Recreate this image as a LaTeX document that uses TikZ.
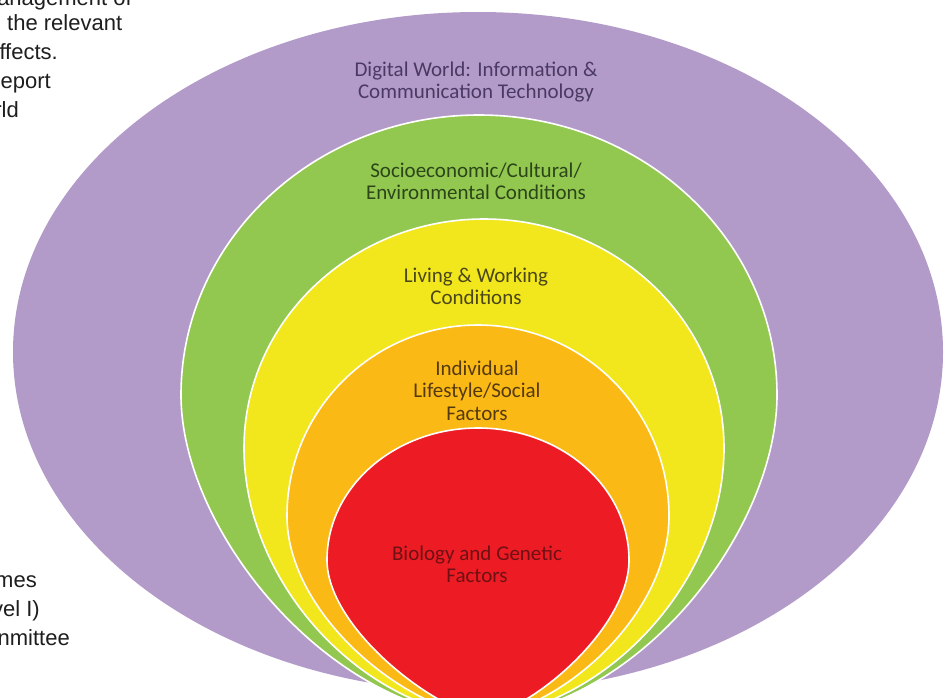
\documentclass[tikz,border=0pt]{standalone}
\usepackage{fontspec}
\setmainfont{Carlito}
\newfontfamily\pagefont{Liberation Sans}
\begin{document}
\begin{tikzpicture}[x=1pt,y=-1pt]
\definecolor{cpurple}{HTML}{B39BC9}
\definecolor{cgreen}{HTML}{93C850}
\definecolor{cyellow}{HTML}{F2E71D}
\definecolor{corange}{HTML}{FBB916}
\definecolor{cred}{HTML}{ED1C24}
\definecolor{tpurple}{HTML}{4A3A62}
\definecolor{tgreen}{HTML}{2C4519}
\definecolor{tyellow}{HTML}{4B4718}
\definecolor{torange}{HTML}{553A10}
\definecolor{tred}{HTML}{6E1014}
\definecolor{tpage}{HTML}{1E1E1E}
\tikzset{
  band/.style={draw=white, line width=1.6pt},
  lbl/.style={font=\fontsize{21}{22.5}\selectfont, align=center, inner sep=0pt, anchor=north},
  pagetext/.style={font=\pagefont\fontsize{22}{28}\selectfont, text=tpage, inner sep=0pt}
}
\useasboundingbox (0,0) rectangle (947,697);
\clip (0,0) rectangle (947,697);
\fill[white] (0,0) rectangle (947,697);

% outer ellipse
\fill[cpurple] (478,352) ellipse [x radius=465pt, y radius=340pt];

% nested shapes, converging at the bottom
\filldraw[band, fill=cgreen] (181,395) arc[start angle=180, end angle=0, x radius=298pt, y radius=280pt]
  .. controls (777,530) and (640,708) .. (483,718)
  .. controls (326,708) and (181,530) .. (181,395) -- cycle;
\filldraw[band, fill=cyellow] (244,448) arc[start angle=180, end angle=0, x radius=240pt, y radius=229pt]
  .. controls (724,580) and (610,705) .. (483,718)
  .. controls (356,705) and (244,580) .. (244,448) -- cycle;
\filldraw[band, fill=corange] (287,516) arc[start angle=180, end angle=0, x radius=191pt, y radius=191pt]
  .. controls (669,610) and (570,705) .. (483,718)
  .. controls (396,705) and (287,610) .. (287,516) -- cycle;
\filldraw[band, fill=cred] (327,560) arc[start angle=180, end angle=0, x radius=151pt, y radius=132pt]
  .. controls (629,625) and (540,705) .. (483,718)
  .. controls (426,705) and (327,625) .. (327,560) -- cycle;

% labels
\node[lbl, text=tpurple] (lab1) at (476,61.5) {Digital World: Information \&\\Communication Technology};
\node[lbl, text=tgreen] (lab2) at (476,162.5) {Socioeconomic/Cultural/\\Environmental Conditions};
\node[lbl, text=tyellow] (lab3) at (476,267.5) {Living \& Working\\Conditions};
\node[lbl, text=torange] (lab4) at (477,360.5) {Individual\\Lifestyle/Social\\Factors};
\node[lbl, text=tred] (lab5) at (477,545.5) {Biology and Genetic\\Factors};

% cropped page text on the left
\node[pagetext, anchor=base east] (p1) at (132,5) {anagement of};
\node[pagetext, anchor=base west] (p2) at (7,30) {the relevant};
\node[pagetext, anchor=base east] (p3) at (58,59) {ffects.};
\node[pagetext, anchor=base east] (p4) at (51,88) {eport};
\node[pagetext, anchor=base east] (p5) at (19,117) {rld};
\node[pagetext, anchor=base east] (p6) at (37,587) {mes};
\node[pagetext, anchor=base east] (p7) at (40,616) {vel I)};
\node[pagetext, anchor=base east] (p8) at (70,645) {nmittee};
\end{tikzpicture}
\end{document}
